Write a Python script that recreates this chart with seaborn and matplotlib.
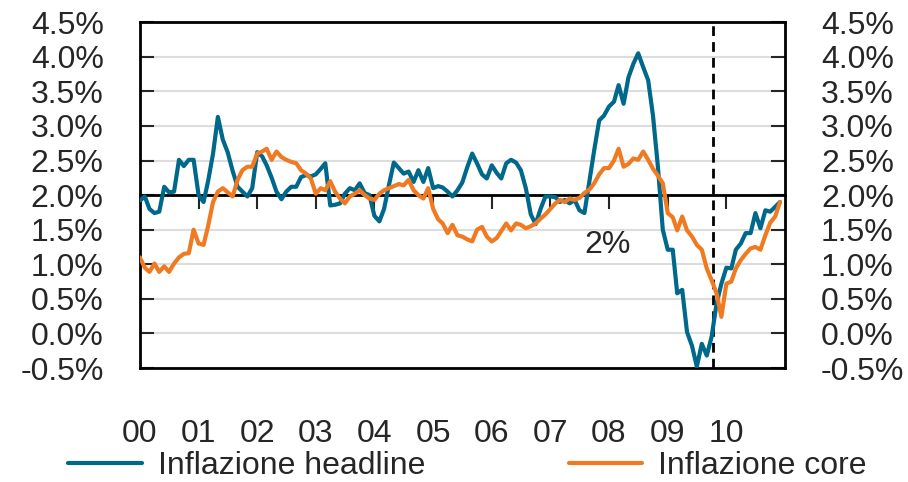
import pandas as pd
import matplotlib.pyplot as plt
import matplotlib.ticker as mticker
import matplotlib.dates as mdates
import seaborn as sns

# Dati mensili gen 2000 - dic 2010 (variazione annua, %)
mesi = pd.date_range("2000-01-01", periods=132, freq="MS")

headline = [
    1.92, 1.98, 1.80, 1.74, 1.76, 2.12, 2.04, 2.05, 2.51, 2.42, 2.51, 2.51,
    2.00, 1.90, 2.20, 2.60, 3.13, 2.80, 2.62, 2.35, 2.12, 2.05, 1.98, 2.10,
    2.62, 2.56, 2.43, 2.25, 2.05, 1.94, 2.05, 2.12, 2.12, 2.26, 2.29, 2.27,
    2.30, 2.38, 2.46, 1.85, 1.86, 1.88, 2.02, 2.10, 2.07, 2.17, 2.03, 2.00,
    1.70, 1.62, 1.80, 2.15, 2.47, 2.39, 2.31, 2.34, 2.19, 2.36, 2.19, 2.39,
    2.10, 2.13, 2.11, 2.05, 1.98, 2.07, 2.18, 2.40, 2.60, 2.46, 2.30, 2.24,
    2.43, 2.32, 2.24, 2.46, 2.51, 2.47, 2.36, 2.10, 1.72, 1.58, 1.80, 1.98,
    1.98, 1.97, 1.90, 1.93, 1.88, 1.93, 1.78, 1.74, 2.20, 2.65, 3.08, 3.15,
    3.28, 3.35, 3.59, 3.32, 3.70, 3.90, 4.05, 3.85, 3.66, 3.15, 2.40, 1.50,
    1.21, 1.21, 0.58, 0.63, 0.02, -0.18, -0.48, -0.15, -0.32, -0.05, 0.43, 0.72,
    0.95, 0.94, 1.21, 1.30, 1.45, 1.45, 1.74, 1.52, 1.78, 1.76, 1.83, 1.90,
]

core = [
    1.10, 0.95, 0.89, 1.01, 0.89, 0.97, 0.89, 1.01, 1.10, 1.15, 1.16, 1.50,
    1.30, 1.28, 1.55, 1.90, 2.05, 2.10, 2.04, 1.98, 2.22, 2.36, 2.41, 2.41,
    2.60, 2.63, 2.67, 2.51, 2.63, 2.55, 2.51, 2.48, 2.46, 2.36, 2.31, 2.24,
    2.02, 2.10, 2.07, 2.20, 2.05, 1.95, 1.88, 1.98, 2.02, 2.07, 2.00, 1.95,
    1.93, 2.02, 2.07, 2.10, 2.13, 2.16, 2.14, 2.22, 2.07, 2.00, 1.95, 2.10,
    1.80, 1.65, 1.59, 1.45, 1.57, 1.42, 1.40, 1.36, 1.33, 1.50, 1.54, 1.40,
    1.33, 1.38, 1.48, 1.59, 1.49, 1.59, 1.57, 1.52, 1.55, 1.59, 1.66, 1.72,
    1.80, 1.88, 1.93, 1.90, 1.95, 1.93, 1.96, 2.03, 2.08, 2.17, 2.30, 2.39,
    2.39, 2.50, 2.67, 2.41, 2.45, 2.53, 2.51, 2.63, 2.51, 2.38, 2.28, 2.17,
    1.74, 1.68, 1.49, 1.69, 1.49, 1.40, 1.28, 1.21, 0.94, 0.77, 0.58, 0.24,
    0.72, 0.75, 0.94, 1.06, 1.15, 1.23, 1.25, 1.21, 1.42, 1.60, 1.69, 1.90,
]

serie = ["Inflazione headline", "Inflazione core"]
colori = {"Inflazione headline": "#00688B", "Inflazione core": "#F07A22"}
anni = pd.date_range("2000-01-01", "2010-01-01", freq="YS")
etichette_anni = ["00", "01", "02", "03", "04", "05", "06", "07", "08", "09", "10"]
tick_y = [-0.5, 0.0, 0.5, 1.0, 1.5, 2.0, 2.5, 3.0, 3.5, 4.0, 4.5]
data_verticale = pd.Timestamp("2009-10-10")

sns.set_style("white")
plt.rcParams['font.family'] = ['Liberation Sans', 'DejaVu Sans']

df = pd.DataFrame({
    "data": list(mesi) * 2,
    "valore": headline + core,
    "serie": [serie[0]] * len(headline) + [serie[1]] * len(core),
})

fig = plt.figure(figsize=(9.08, 4.82), dpi=100)
ax = fig.add_axes([0.154, 0.2365, 0.7105, 0.7175])

sns.lineplot(data=df, x="data", y="valore", hue="serie", hue_order=serie,
             palette=colori, linewidth=3, ax=ax, legend=False, zorder=3)
linee = list(ax.lines[:2])

# Linea verticale tratteggiata
ax.axvline(data_verticale, color="black", lw=2, ls=(0, (3.5, 2.2)), zorder=2)

# Assi
ax.set_ylim(-0.5, 4.5)
ax.set_xlim(mesi[0], pd.Timestamp("2011-01-01"))
ax.set_yticks(tick_y)
ax.yaxis.set_major_formatter(mticker.FuncFormatter(lambda v, _: f"{v:.1f}%"))
ax.yaxis.grid(True, color="#dddddd", lw=1.5)
ax.set_axisbelow(True)
ax.tick_params(axis="y", left=True, right=True, labelleft=True, labelright=True,
               direction="in", length=10, width=1.5, pad=26, labelsize=23)
ax.set_xticks(anni)
ax.set_xticklabels(etichette_anni)
ax.tick_params(axis="x", length=0, pad=37, labelsize=23)
ax.set_xlabel("")
ax.set_ylabel("")
for s in ax.spines.values():
    s.set_color("black")
    s.set_linewidth(2)

# Asse al 2% con tacche annuali
sec = ax.secondary_xaxis(0.5)
sec.set_xticks(mdates.date2num(anni[1:]))
sec.tick_params(axis="x", which="both", top=False, bottom=True, direction="out",
                length=10, width=1.5, labelbottom=False, labeltop=False)
for s in sec.spines.values():
    s.set_linewidth(2)
    s.set_color("black")
sec.set_zorder(2)

ax.text(pd.Timestamp("2007-12-20"), 1.28, "2%", fontsize=23, ha="center", va="center")

fig.legend(linee, serie, loc="center", bbox_to_anchor=(0.515, 0.033), ncol=2,
           frameon=False, fontsize=23, handlelength=2.3, handletextpad=0.5,
           columnspacing=4.5)

fig.savefig("out.png", dpi=100)
